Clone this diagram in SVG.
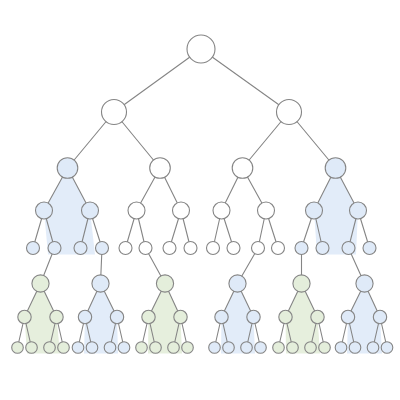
<svg xmlns="http://www.w3.org/2000/svg" width="400" height="400" viewBox="0 0 400 400">
<style>
.e{stroke:#858585;stroke-width:1.1;fill:none}
.n{stroke:#858585;stroke-width:1.1;fill:#ffffff}
.b{fill:#dfeaf8}
.g{fill:#e4eedb}
.sb{fill:#e2ecf9;stroke:none}
.sg{fill:#e6efdd;stroke:none}
</style>
<rect width="400" height="400" fill="#ffffff"/>
<g id="shading">
<polygon class="sb" points="67.5,168 44,210.5 48,254.5 95,254.5 90,210.5"/>
<polygon class="sb" points="335.5,168 314,210.5 317,254.5 356,254.5 358,210.5"/>
<polygon class="sg" points="40.5,283.5 24.5,317 27,353.5 60,353.5 56.5,317"/>
<polygon class="sb" points="100.5,283.5 85,317 84,353.5 118,353.5 117,317"/>
<polygon class="sg" points="165,283.5 148.5,317 148,353.5 182,353.5 180.5,317"/>
<polygon class="sb" points="237.5,283.5 221.5,317 221,353.5 255,353.5 253.5,317"/>
<polygon class="sg" points="301.5,283.5 285.5,317 286,353.5 320,353.5 317.5,317"/>
<polygon class="sb" points="364.5,283.5 348,317 347,353.5 382,353.5 380,317"/>
</g>
<g id="connectors" class="e">
<path d="M201,49L114,112M201,49L289,112
M114,112L67.5,168M114,112L160,168M289,112L242.5,168M289,112L335.5,168
M67.5,168L44,210.5M67.5,168L90,210.5M160,168L136.5,210.5M160,168L181,210.5
M242.5,168L221.5,210.5M242.5,168L266,210.5M335.5,168L314,210.5M335.5,168L358,210.5
M44,210.5L33,248M44,210.5L54.5,248M90,210.5L80.5,248M90,210.5L102,248
M136.5,210.5L125.5,248M136.5,210.5L145.5,248M181,210.5L169.5,248M181,210.5L190.5,248
M221.5,210.5L213,248M221.5,210.5L233.5,248M266,210.5L258,248M266,210.5L278,248
M314,210.5L301.5,248M314,210.5L322.5,248M358,210.5L348.5,248M358,210.5L369.5,248
M54.5,248L40.5,283.5M102,248L100.5,283.5M145.5,248L165,283.5
M258,248L237.5,283.5M301.5,248L301.5,283.5M348.5,248L364.5,283.5
M40.5,283.5L24.5,317M40.5,283.5L56.5,317M100.5,283.5L85,317M100.5,283.5L117,317
M165,283.5L148.5,317M165,283.5L180.5,317M237.5,283.5L221.5,317M237.5,283.5L253.5,317
M301.5,283.5L285.5,317M301.5,283.5L317.5,317M364.5,283.5L348,317M364.5,283.5L380,317
M24.5,317L17.5,347.5M24.5,317L31.5,347.5M56.5,317L49.5,347.5M56.5,317L63.5,347.5
M85,317L78,347.5M85,317L92,347.5M117,317L110,347.5M117,317L124,347.5
M148.5,317L141.5,347.5M148.5,317L155.5,347.5M180.5,317L173.5,347.5M180.5,317L187.5,347.5
M221.5,317L214.5,347.5M221.5,317L228.5,347.5M253.5,317L246.5,347.5M253.5,317L260.5,347.5
M285.5,317L278.5,347.5M285.5,317L292.5,347.5M317.5,317L310.5,347.5M317.5,317L324.5,347.5
M348,317L341,347.5M348,317L355,347.5M380,317L373,347.5M380,317L387,347.5"/>
</g>
<g id="n0"><circle class="n" cx="201" cy="49" r="14"/></g>
<g id="n1"><circle class="n" cx="114" cy="112" r="12.5"/></g>
<g id="n2"><circle class="n" cx="289" cy="112" r="12.5"/></g>
<g id="n3"><circle class="n b" cx="67.5" cy="168" r="10.3"/></g>
<g id="n4"><circle class="n" cx="160" cy="168" r="10.3"/></g>
<g id="n5"><circle class="n" cx="242.5" cy="168" r="10.3"/></g>
<g id="n6"><circle class="n b" cx="335.5" cy="168" r="10.3"/></g>
<g id="n7"><circle class="n b" cx="44" cy="210.5" r="8.5"/></g>
<g id="n8"><circle class="n b" cx="90" cy="210.5" r="8.5"/></g>
<g id="n9"><circle class="n" cx="136.5" cy="210.5" r="8.5"/></g>
<g id="n10"><circle class="n" cx="181" cy="210.5" r="8.5"/></g>
<g id="n11"><circle class="n" cx="221.5" cy="210.5" r="8.5"/></g>
<g id="n12"><circle class="n" cx="266" cy="210.5" r="8.5"/></g>
<g id="n13"><circle class="n b" cx="314" cy="210.5" r="8.5"/></g>
<g id="n14"><circle class="n b" cx="358" cy="210.5" r="8.5"/></g>
<g id="n15"><circle class="n b" cx="33" cy="248" r="6.5"/></g>
<g id="n16"><circle class="n b" cx="54.5" cy="248" r="6.5"/></g>
<g id="n17"><circle class="n b" cx="80.5" cy="248" r="6.5"/></g>
<g id="n18"><circle class="n b" cx="102" cy="248" r="6.5"/></g>
<g id="n19"><circle class="n" cx="125.5" cy="248" r="6.5"/></g>
<g id="n20"><circle class="n" cx="145.5" cy="248" r="6.5"/></g>
<g id="n21"><circle class="n" cx="169.5" cy="248" r="6.5"/></g>
<g id="n22"><circle class="n" cx="190.5" cy="248" r="6.5"/></g>
<g id="n23"><circle class="n" cx="213" cy="248" r="6.5"/></g>
<g id="n24"><circle class="n" cx="233.5" cy="248" r="6.5"/></g>
<g id="n25"><circle class="n" cx="258" cy="248" r="6.5"/></g>
<g id="n26"><circle class="n" cx="278" cy="248" r="6.5"/></g>
<g id="n27"><circle class="n b" cx="301.5" cy="248" r="6.5"/></g>
<g id="n28"><circle class="n b" cx="322.5" cy="248" r="6.5"/></g>
<g id="n29"><circle class="n b" cx="348.5" cy="248" r="6.5"/></g>
<g id="n30"><circle class="n b" cx="369.5" cy="248" r="6.5"/></g>
<g id="n31"><circle class="n g" cx="40.5" cy="283.5" r="8.6"/></g>
<g id="n32"><circle class="n b" cx="100.5" cy="283.5" r="8.6"/></g>
<g id="n33"><circle class="n g" cx="165" cy="283.5" r="8.6"/></g>
<g id="n34"><circle class="n b" cx="237.5" cy="283.5" r="8.6"/></g>
<g id="n35"><circle class="n g" cx="301.5" cy="283.5" r="8.6"/></g>
<g id="n36"><circle class="n b" cx="364.5" cy="283.5" r="8.6"/></g>
<g id="n37"><circle class="n g" cx="24.5" cy="317" r="6.7"/></g>
<g id="n38"><circle class="n g" cx="56.5" cy="317" r="6.7"/></g>
<g id="n39"><circle class="n b" cx="85" cy="317" r="6.7"/></g>
<g id="n40"><circle class="n b" cx="117" cy="317" r="6.7"/></g>
<g id="n41"><circle class="n g" cx="148.5" cy="317" r="6.7"/></g>
<g id="n42"><circle class="n g" cx="180.5" cy="317" r="6.7"/></g>
<g id="n43"><circle class="n b" cx="221.5" cy="317" r="6.7"/></g>
<g id="n44"><circle class="n b" cx="253.5" cy="317" r="6.7"/></g>
<g id="n45"><circle class="n g" cx="285.5" cy="317" r="6.7"/></g>
<g id="n46"><circle class="n g" cx="317.5" cy="317" r="6.7"/></g>
<g id="n47"><circle class="n b" cx="348" cy="317" r="6.7"/></g>
<g id="n48"><circle class="n b" cx="380" cy="317" r="6.7"/></g>
<g id="n49"><circle class="n g" cx="17.5" cy="347.5" r="5.8"/></g>
<g id="n50"><circle class="n g" cx="31.5" cy="347.5" r="5.8"/></g>
<g id="n51"><circle class="n g" cx="49.5" cy="347.5" r="5.8"/></g>
<g id="n52"><circle class="n g" cx="63.5" cy="347.5" r="5.8"/></g>
<g id="n53"><circle class="n b" cx="78" cy="347.5" r="5.8"/></g>
<g id="n54"><circle class="n b" cx="92" cy="347.5" r="5.8"/></g>
<g id="n55"><circle class="n b" cx="110" cy="347.5" r="5.8"/></g>
<g id="n56"><circle class="n b" cx="124" cy="347.5" r="5.8"/></g>
<g id="n57"><circle class="n g" cx="141.5" cy="347.5" r="5.8"/></g>
<g id="n58"><circle class="n g" cx="155.5" cy="347.5" r="5.8"/></g>
<g id="n59"><circle class="n g" cx="173.5" cy="347.5" r="5.8"/></g>
<g id="n60"><circle class="n g" cx="187.5" cy="347.5" r="5.8"/></g>
<g id="n61"><circle class="n b" cx="214.5" cy="347.5" r="5.8"/></g>
<g id="n62"><circle class="n b" cx="228.5" cy="347.5" r="5.8"/></g>
<g id="n63"><circle class="n b" cx="246.5" cy="347.5" r="5.8"/></g>
<g id="n64"><circle class="n b" cx="260.5" cy="347.5" r="5.8"/></g>
<g id="n65"><circle class="n g" cx="278.5" cy="347.5" r="5.8"/></g>
<g id="n66"><circle class="n g" cx="292.5" cy="347.5" r="5.8"/></g>
<g id="n67"><circle class="n g" cx="310.5" cy="347.5" r="5.8"/></g>
<g id="n68"><circle class="n g" cx="324.5" cy="347.5" r="5.8"/></g>
<g id="n69"><circle class="n b" cx="341" cy="347.5" r="5.8"/></g>
<g id="n70"><circle class="n b" cx="355" cy="347.5" r="5.8"/></g>
<g id="n71"><circle class="n b" cx="373" cy="347.5" r="5.8"/></g>
<g id="n72"><circle class="n b" cx="387" cy="347.5" r="5.8"/></g>
</svg>
